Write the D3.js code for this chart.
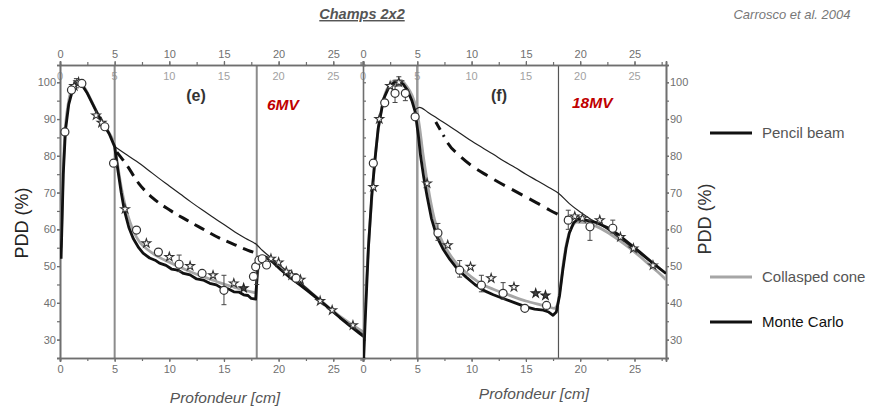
<!DOCTYPE html>
<html>
<head>
<meta charset="utf-8">
<script src="https://cdn.jsdelivr.net/npm/d3@7"></script>
<style>
  body { margin: 0; background: #fff; }
  svg { display: block; }
  text { font-family: "Liberation Sans", Arial, sans-serif; }
</style>
</head>
<body>
<svg id="chart" width="873" height="412"></svg>
<script>
// ---- Depth-dose data (depth in cm, PDD in %) ----
// Slab phantom: water 0-5 cm, lung 5-18 cm, water 18-28 cm.
const xTicks = [0, 5, 10, 15, 20, 25];
const yTicks = [30, 40, 50, 60, 70, 80, 90, 100];
const interfaces = [5, 18];

// 6 MV
const mc6 = [[0.1,52],[0.3,75],[0.5,87],[0.8,94],[1.2,98.5],[1.6,100],[2.0,99.3],[2.5,97],[3.0,94],[3.5,91],[4.0,88.5],[4.5,86],[5.0,82.5],[5.3,76],[5.6,70],[5.9,65],[6.3,60.5],[6.7,57.5],[7.2,55],[7.6,53.5],[8.2,52.2],[8.7,51.6],[9.1,50.8],[9.7,50.2],[10.2,49.2],[10.8,48.9],[11.3,48],[11.9,47.6],[12.5,46.5],[13.1,46.2],[13.7,45.3],[14.3,44.9],[14.8,44],[15.4,43.8],[15.9,43],[16.4,42.9],[16.8,42.2],[17.2,42],[17.5,41.2],[17.9,41],[18.0,46],[18.1,50.5],[18.3,52.3],[18.8,52.5],[19.5,51],[20.2,49],[21,47],[21.8,45.2],[22.6,43.4],[23.4,41.5],[24.1,39.8],[24.9,37.8],[25.6,36],[26.5,33.8],[27.4,31.7],[27.8,30.8]];
const cc6 = [[0.1,55],[0.3,77],[0.5,88],[0.8,95],[1.2,99],[1.6,100],[2.0,99.5],[2.5,97.2],[3.0,94.2],[3.5,91.2],[4.0,88.7],[4.5,86.2],[5.0,82.7],[5.3,77],[5.6,71.5],[6.0,66],[6.4,62],[6.8,59],[7.3,56.5],[8.0,54.5],[9.0,52.5],[10.2,50.8],[11.3,49.3],[12.5,47.8],[13.7,46.5],[14.8,45.3],[15.9,44.3],[16.8,43.5],[17.5,43],[17.9,42.8],[18.05,47],[18.2,51],[18.5,52.5],[19.0,52.3],[19.5,51.3],[20.5,48.8],[21.5,46.5],[22.5,44],[23.5,41.5],[24.5,39],[25.5,36.6],[26.5,34.5],[27.8,32]];
const pb6 = [[5.0,82.5],[6,80.5],[7,78.5],[8,76.3],[9,74],[10,71.8],[11,69.6],[12,67.4],[13,65.3],[14,63.3],[15,61.3],[16,59.3],[17,57.5],[18,55.8],[18.5,54.3],[19,53],[19.5,51.8],[20.5,49.3],[21.5,46.8],[22.5,44.2],[23.5,41.6],[24.5,39],[25.5,36.5],[26.5,34.2],[27.8,31.3]];
const dash6 = [[5.2,81],[6.1,77.5],[7.2,72.5],[8.5,68.5],[10,65.3],[11.6,62.5],[13,60.2],[14.6,57.6],[16,55.8],[17.2,54.3],[18,53.5]];
const circles6 = [[0.45,86.5],[1.05,97.9],[2.0,99.7],[4.1,87.9],[4.9,78],[7.0,59.8],[9.0,53.8],[10.9,50.5],[13.0,48],[15.0,43.4],[17.7,47.2],[17.9,49.8],[18.2,51.6],[18.5,52],[18.9,50.3],[21.6,46.7]];
const stars6 = [[1.3,99],[1.7,100],[3.3,91],[3.8,89],[5.95,65.5],[7.9,56.2],[10,52.5],[11.9,50],[14,47.5],[15.9,45.3],[19.3,52],[20,51],[20.7,48.5],[21.2,47.5],[22,46.3],[23.8,40.5],[24.9,38],[26.8,33.9]];
const filled6 = [[16.8,44]];
const errors6 = [[1.5,98.5,101],[10.9,48.5,53],[15.0,39.5,47.5],[18.0,45,51]];

// 18 MV
const mc18 = [[0.0,20],[0.2,35],[0.5,55],[0.8,69],[1.1,78.8],[1.4,87.5],[1.9,95.5],[2.4,98.8],[2.9,100],[3.3,100.2],[3.7,99.5],[4.1,97.8],[4.5,95],[4.8,92],[5.1,85.5],[5.3,80],[5.6,74],[5.9,69],[6.3,63],[6.8,58],[7.4,54.5],[8.0,51.8],[8.7,49.2],[9.5,47],[10.3,45],[11.1,43.4],[12.0,42.2],[12.9,41.2],[14.0,40],[15.0,38.9],[15.8,38.3],[16.6,38],[17.1,37.5],[17.5,36.6],[17.8,37.5],[18.1,42],[18.4,49],[18.7,55],[19.0,59],[19.4,61.8],[19.8,62.8],[20.5,62.5],[21.5,61.8],[22.5,60.5],[23.5,58.6],[24.5,56.2],[25.5,53.8],[26.5,51.3],[27.3,49.4],[27.9,48]];
const cc18 = [[0.0,24],[0.3,45],[0.6,60],[0.9,72],[1.2,82],[1.6,91],[2.0,96.5],[2.5,99.5],[3.0,100.5],[3.5,100.5],[4.0,99],[4.5,96.5],[4.9,93],[5.2,88],[5.5,81],[5.8,75],[6.2,68],[6.6,62.5],[7.1,58],[7.7,54.5],[8.4,51.5],[9.2,49],[10,47],[11,45],[12,43.7],[13,42.6],[14,41.5],[15,40.5],[16,39.7],[17,39],[17.6,38.5],[17.9,39.5],[18.2,45],[18.5,52],[18.8,57],[19.2,60.5],[19.7,62],[20.5,61.8],[21.5,60.8],[22.5,59.2],[23.5,57.2],[24.5,55],[25.5,52.6],[26.5,50],[27.3,48],[27.9,46.3]];
const pb18 = [[4.8,92.5],[5.2,93.2],[6,91.8],[7,89.9],[8,88],[9,86],[10,84],[11,82.2],[12,80.4],[13,78.5],[14,76.8],[15,75],[16,73.3],[17,71.6],[18,69.8],[19,67],[20,64.7],[21,62.7],[22,61],[23,59],[24,56.8],[25,54.5],[26,52.2],[27,50],[27.9,48]];
const dash18 = [[6.7,89.2],[7.4,85.6],[7.8,83.5],[8.9,80],[10,77.3],[11.4,74.7],[12.5,72.8],[13.5,71.2],[15,68.8],[16,67.2],[17.2,65.2],[18,64],[18.8,63]];
const circles18 = [[0.95,78],[2.0,94.4],[2.95,97],[3.9,97],[4.8,90.6],[6.9,59],[8.9,48.9],[10.9,44.8],[12.9,42.6],[14.9,38.5],[16.9,39.3],[18.9,62.5],[20.9,60.7],[23.0,60.3]];
const stars18 = [[0.95,71.5],[1.5,90],[2.5,99],[3.3,100],[5.9,72.5],[7.8,55.7],[9.9,49.8],[11.8,46.7],[13.9,44.3],[19.5,63.5],[20.2,63],[21.8,62.5],[23.7,57.9],[24.9,54.8],[26.7,50.2]];
const filled18 = [[15.9,42.6],[16.8,42]];
const errors18 = [[2.95,94.5,99],[3.3,99,101.5],[3.9,95,98],[6.9,57,61.6],[8.9,47,51.5],[10.9,43,47.5],[12.9,41,45.5],[18.9,60,65.2],[20.9,57,62.5],[23.0,59,62.5]];

const legendItems = [
  { label: "Pencil beam", color: "#111", text: "#555", y: 133 },
  { label: "Collasped cone", color: "#a6a6a6", text: "#555", y: 277 },
  { label: "Monte Carlo", color: "#111", text: "#111", y: 322 }
];

// ---- Layout ----
const svg = d3.select("#chart");
const yTop = 65, yBottom = 358;
const y = d3.scaleLinear().domain([25, 104.7]).range([yBottom, yTop]);

const panels = [
  { id: "p6", x: d3.scaleLinear().domain([0, 27.72]).range([60, 363]),
    mc: mc6, cc: cc6, pb: pb6, dash: dash6, dashArray: "11,7",
    circles: circles6, stars: stars6, filled: filled6, errors: errors6,
    tag: "(e)", tagX: 196, tagY: 101, energy: "6MV", energyX: 267, energyY: 110,
    lineStyles: [{ w: 2, c: "#8c8c8c" }, { w: 2, c: "#8c8c8c" }] },
  { id: "p18", x: d3.scaleLinear().domain([0, 27.9]).range([363, 666]),
    mc: mc18, cc: cc18, pb: pb18, dash: dash18,
    dashArray: "9,6,2,7," + d3.range(30).map(() => "12,8").join(","),
    circles: circles18, stars: stars18, filled: filled18, errors: errors18,
    tag: "(f)", tagX: 499, tagY: 101, energy: "18MV", energyX: 572, energyY: 108,
    lineStyles: [{ w: 2.5, c: "#9a9a9a" }, { w: 1.2, c: "#555" }] }
];

const axisColor = "#6f6f6f";
const labelColor = "#707070";

function styleAxis(g) {
  g.selectAll("path.domain").attr("stroke", axisColor).attr("stroke-width", 1.6);
  g.selectAll(".tick line").attr("stroke", axisColor).attr("stroke-width", 1.2);
  g.selectAll(".tick text").attr("fill", labelColor).style("font-size", "11px")
    .style("font-family", '"Liberation Sans", Arial, sans-serif');
}

const defs = svg.append("defs");

panels.forEach(p => {
  const x = p.x;
  const [x0, x1] = x.range();

  defs.append("clipPath").attr("id", "clip-" + p.id)
    .append("rect").attr("x", x0).attr("y", yTop).attr("width", x1 - x0).attr("height", yBottom - yTop);

  // interface lines between media
  interfaces.forEach((d, i) => {
    svg.append("line")
      .attr("x1", x(d)).attr("x2", x(d)).attr("y1", yTop).attr("y2", yBottom)
      .attr("stroke", p.lineStyles[i].c).attr("stroke-width", p.lineStyles[i].w);
  });

  const minorX = d3.range(0, 28, 2.5).filter(v => v <= x.domain()[1]);
  const minorY = d3.range(25, 105, 5);

  // bottom axis
  const gb = svg.append("g").attr("transform", `translate(0,${yBottom})`)
    .call(d3.axisBottom(x).tickValues(minorX).tickSize(3).tickFormat(""));
  styleAxis(gb);
  const gb2 = svg.append("g").attr("transform", `translate(0,${yBottom})`)
    .call(d3.axisBottom(x).tickValues(xTicks).tickSize(4).tickPadding(3).tickFormat(d3.format("d")));
  styleAxis(gb2);

  // top axis, labels above
  const gt = svg.append("g").attr("transform", `translate(0,${yTop})`)
    .call(d3.axisTop(x).tickValues(minorX).tickSize(3).tickFormat(""));
  styleAxis(gt);
  const gt2 = svg.append("g").attr("transform", `translate(0,${yTop})`)
    .call(d3.axisTop(x).tickValues(xTicks).tickSize(4).tickPadding(3).tickFormat(d3.format("d")));
  styleAxis(gt2);

  // echoed top labels just inside the frame
  svg.append("g").selectAll("text").data(xTicks).join("text")
    .attr("x", d => x(d)).attr("y", yTop + 15)
    .attr("text-anchor", "middle").attr("fill", "#8a8a8a").attr("opacity", 0.8)
    .style("font-size", "11px").text(d => d);

  // left axis of each panel
  if (p.id === "p6") {
    const gl = svg.append("g").attr("transform", `translate(${x0},0)`)
      .call(d3.axisLeft(y).tickValues(minorY).tickSize(3).tickFormat(""));
    styleAxis(gl);
    const gl2 = svg.append("g").attr("transform", `translate(${x0},0)`)
      .call(d3.axisLeft(y).tickValues(yTicks).tickSize(3).tickPadding(1).tickFormat(d3.format("d")));
    styleAxis(gl2);
  } else {
    const gl = svg.append("g").attr("transform", `translate(${x0},0)`)
      .call(d3.axisRight(y).tickValues(minorY).tickSize(3).tickFormat(""));
    styleAxis(gl);
    const gr = svg.append("g").attr("transform", `translate(${x1},0)`)
      .call(d3.axisRight(y).tickValues(minorY).tickSize(3).tickFormat(""));
    styleAxis(gr);
    const gr2 = svg.append("g").attr("transform", `translate(${x1},0)`)
      .call(d3.axisRight(y).tickValues(yTicks).tickSize(3).tickPadding(1).tickFormat(d3.format("d")));
    styleAxis(gr2);
  }

  const line = d3.line().x(d => x(d[0])).y(d => y(d[1])).curve(d3.curveMonotoneX);
  const plot = svg.append("g").attr("clip-path", `url(#clip-${p.id})`);

  plot.append("path").datum(p.cc).attr("d", line)
    .attr("fill", "none").attr("stroke", "#a6a6a6").attr("stroke-width", 2.8);
  plot.append("path").datum(p.pb).attr("d", line)
    .attr("fill", "none").attr("stroke", "#222").attr("stroke-width", 1.2);
  plot.append("path").datum(p.dash).attr("d", line)
    .attr("fill", "none").attr("stroke", "#111").attr("stroke-width", 3)
    .attr("stroke-dasharray", p.dashArray);
  plot.append("path").datum(p.mc).attr("d", d3.line().x(d => x(d[0])).y(d => y(d[1])))
    .attr("fill", "none").attr("stroke", "#111").attr("stroke-width", 2.8)
    .attr("stroke-linejoin", "round");

  // measurement error bars
  const eb = plot.append("g").attr("stroke", "#444").attr("stroke-width", 1);
  p.errors.forEach(([d, lo, hi]) => {
    eb.append("line").attr("x1", x(d)).attr("x2", x(d)).attr("y1", y(lo)).attr("y2", y(hi));
    [lo, hi].forEach(v => eb.append("line")
      .attr("x1", x(d) - 2.5).attr("x2", x(d) + 2.5).attr("y1", y(v)).attr("y2", y(v)));
  });

  // measured points
  const star = d3.symbol().type(d3.symbolStar).size(24);
  plot.append("g").selectAll("path").data(p.stars).join("path")
    .attr("d", star).attr("transform", d => `translate(${x(d[0])},${y(d[1])})`)
    .attr("fill", "#fff").attr("stroke", "#333").attr("stroke-width", 1.1);
  plot.append("g").selectAll("path").data(p.filled).join("path")
    .attr("d", star).attr("transform", d => `translate(${x(d[0])},${y(d[1])})`)
    .attr("fill", "#444").attr("stroke", "#222").attr("stroke-width", 1.1);
  plot.append("g").selectAll("circle").data(p.circles).join("circle")
    .attr("cx", d => x(d[0])).attr("cy", d => y(d[1])).attr("r", 4)
    .attr("fill", "#fff").attr("stroke", "#333").attr("stroke-width", 1.2);

  // panel tag and beam energy
  svg.append("text").attr("x", p.tagX).attr("y", p.tagY).attr("text-anchor", "middle")
    .attr("fill", "#333").style("font-size", "16px").style("font-weight", "bold").text(p.tag);
  svg.append("text").attr("x", p.energyX).attr("y", p.energyY)
    .attr("fill", "#c00000").style("font-size", "15.5px").style("font-weight", "bold")
    .style("font-style", "italic").text(p.energy);

  // x-axis title
  svg.append("text").attr("x", p.id === "p6" ? 225 : 534).attr("y", p.id === "p6" ? 403 : 399)
    .attr("text-anchor", "middle").attr("fill", "#555").style("font-size", "15.5px")
    .style("font-style", "italic").text("Profondeur [cm]");
});

// y-axis titles
[[22, 223, "#222"], [705, 219, "#333"]].forEach(([cx, cy, c]) => {
  svg.append("text").attr("transform", `translate(${cx + 6},${cy}) rotate(-90)`)
    .attr("text-anchor", "middle").attr("fill", c).style("font-size", "18px").text("PDD (%)");
});

// heading
svg.append("text").attr("x", 362).attr("y", 19).attr("text-anchor", "middle")
  .attr("fill", "#555").style("font-size", "14.5px").style("font-weight", "bold")
  .style("font-style", "italic").style("text-decoration", "underline").text("Champs 2x2");
svg.append("text").attr("x", 792).attr("y", 19).attr("text-anchor", "middle")
  .attr("fill", "#777").style("font-size", "13px").style("font-style", "italic")
  .text("Carrosco et al. 2004");

// legend
const lg = svg.append("g");
legendItems.forEach(it => {
  lg.append("line").attr("x1", 710).attr("x2", 752).attr("y1", it.y).attr("y2", it.y)
    .attr("stroke", it.color).attr("stroke-width", 3);
  lg.append("text").attr("x", 762).attr("y", it.y + 5).attr("fill", it.text)
    .style("font-size", "15px").text(it.label);
});
</script>
</body>
</html>
